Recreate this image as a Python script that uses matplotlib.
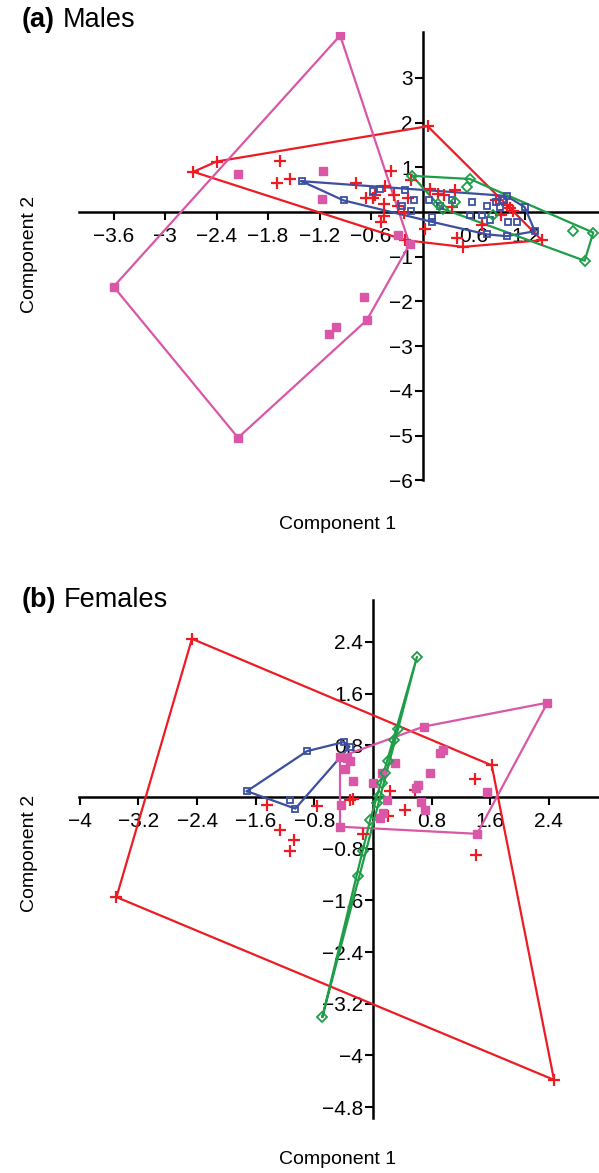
import numpy as np
import matplotlib
matplotlib.use("Agg")
import matplotlib.pyplot as plt
from matplotlib.ticker import FixedLocator, FixedFormatter

plt.rcParams['font.family'] = ['Liberation Sans', 'DejaVu Sans']

# ---------------- Panel (a) Males ----------------
males_red_x = [-2.67, -2.40, 0.06, 1.39, 0.47, -0.20,
               -1.66, -1.70, -1.55, -0.78, -0.66, -0.58, -0.37, -0.55, -0.44, -0.33,
               -0.45, -0.17, -0.28, -0.13, -0.45, -0.48, -0.22, 0.09, 0.18, 0.25,
               0.38, 0.34, 0.03, 0.40, 0.69, 0.86, 0.92, 0.98, 1.02, 1.05]
males_red_y = [0.90, 1.13, 1.92, -0.63, -0.78, -0.63,
               1.14, 0.66, 0.75, 0.66, 0.31, 0.31, 0.91, 0.38, 0.58, 0.38,
               0.19, 0.31, 0.13, 0.72, -0.10, -0.22, -0.03, 0.51, 0.40, 0.38,
               0.49, 0.12, -0.38, -0.57, -0.28, 0.27, -0.07, 0.16, 0.08, 0.03]

males_pink_x = [-0.96, -0.15, -0.65, -2.15, -3.60, -0.28, -0.68, -1.01, -1.09, -2.15, -1.16, -1.17]
males_pink_y = [3.95, -0.72, -2.42, -5.05, -1.67, -0.51, -1.91, -2.57, -2.73, 0.86, 0.92, 0.29]

males_blue_x = [-1.41, 0.98, 1.19, 1.31, 0.98, 0.75, 0.11, -0.92,
                -0.58, -0.50, -0.20, -0.10, -0.24, -0.13, 0.08, 0.20, 0.34, 0.58,
                0.75, 0.86, 0.90, 0.94, 0.55, 0.69, 0.79, 1.00, 1.10, 0.11]
males_blue_y = [0.69, 0.36, 0.11, -0.43, -0.54, -0.50, -0.22, 0.26,
                0.48, 0.51, 0.50, 0.27, 0.13, 0.02, 0.27, 0.13, 0.27, 0.23,
                0.13, 0.23, 0.12, 0.28, -0.07, -0.07, -0.18, -0.22, -0.22, -0.12]

males_green_x = [-0.12, 0.55, 1.99, 1.89, 0.24, 0.52, 0.38, 0.18, 0.82, 1.75]
males_green_y = [0.81, 0.74, -0.46, -1.09, 0.07, 0.56, 0.23, 0.17, -0.07, -0.42]

males_xticks = [-3.6, -3.0, -2.4, -1.8, -1.2, -0.6, 0.6, 1.2]
males_yticks = [-6, -5, -4, -3, -2, -1, 1, 2, 3]

# ---------------- Panel (b) Females ----------------
fem_red_x = [-2.47, 1.62, 2.47, -3.50,
             -1.45, -1.27, -1.08, -1.13, -0.77, -0.31, -0.27, 0.23, 0.57, 0.21,
             0.44, -0.13, 1.39, 1.41]
fem_red_y = [2.45, 0.49, -4.38, -1.55,
             -0.12, -0.51, -0.66, -0.83, -0.14, -0.05, -0.03, 0.10, 0.11, -0.29,
             -0.20, -0.57, 0.28, -0.90]

fem_pink_x = [2.38, 0.69, -0.45, -0.45, 1.42,
              -0.36, -0.31, -0.38, -0.27, 0.00, 0.12, 0.30, 0.78, 0.91, 0.95,
              0.62, 0.59, 0.66, 0.71, 0.19, 0.14, 0.10, -0.44, 1.55]
fem_pink_y = [1.46, 1.09, 0.62, -0.46, -0.57,
              0.60, 0.55, 0.44, 0.24, 0.21, 0.37, 0.52, 0.37, 0.68, 0.72,
              0.18, 0.14, -0.07, -0.20, -0.05, -0.25, -0.33, -0.12, 0.08]

fem_blue_x = [-1.72, -0.90, -0.40, -0.32, -1.13, -1.06]
fem_blue_y = [0.09, 0.71, 0.85, 0.78, -0.05, -0.18]

fem_green_x = [0.60, 0.34, 0.28, 0.21, 0.16, 0.12, 0.08, 0.05, -0.04, -0.14, -0.20, -0.69]
fem_green_y = [2.17, 1.06, 0.88, 0.55, 0.37, 0.21, 0.02, -0.10, -0.36, -0.84, -1.23, -3.40]

fem_xticks = [-4.0, -3.2, -2.4, -1.6, -0.8, 0.8, 1.6, 2.4]
fem_yticks = [-4.8, -4.0, -3.2, -2.4, -1.6, -0.8, 0.8, 1.6, 2.4]

RED = '#ED1C24'
PINK = '#D957A6'
BLUE = '#3C4FA0'
GREEN = '#1E9E48'


def convex_hull(xs, ys):
    pts = sorted(set(zip(xs, ys)))
    if len(pts) < 3:
        return pts + pts[:1]

    def cross(o, a, b):
        return (a[0] - o[0]) * (b[1] - o[1]) - (a[1] - o[1]) * (b[0] - o[0])

    lower = []
    for p in pts:
        while len(lower) >= 2 and cross(lower[-2], lower[-1], p) <= 0:
            lower.pop()
        lower.append(p)
    upper = []
    for p in reversed(pts):
        while len(upper) >= 2 and cross(upper[-2], upper[-1], p) <= 0:
            upper.pop()
        upper.append(p)
    h = lower[:-1] + upper[:-1]
    return h + h[:1]


def fmt(v):
    s = f"{v:g}"
    return s.replace('-', '\u2212')


def draw_group(ax, xs, ys, color, marker, ms, filled, mew):
    h = convex_hull(xs, ys)
    hx = [p[0] for p in h]
    hy = [p[1] for p in h]
    ax.plot(hx, hy, color=color, lw=1.6, zorder=2)
    ax.plot(xs, ys, linestyle='none', marker=marker, ms=ms,
            mfc=color if filled else 'none', mec=color, mew=mew, zorder=3)


def style_axes(ax, xticks, yticks, xlim, ylim):
    ax.set_xlim(*xlim)
    ax.set_ylim(*ylim)
    for s in ['top', 'right']:
        ax.spines[s].set_visible(False)
    ax.spines['left'].set_position(('data', 0))
    ax.spines['bottom'].set_position(('data', 0))
    for s in ['left', 'bottom']:
        ax.spines[s].set_linewidth(1.8)
        ax.spines[s].set_zorder(1)
    ax.xaxis.set_major_locator(FixedLocator(xticks))
    ax.xaxis.set_major_formatter(FixedFormatter([fmt(v) for v in xticks]))
    ax.yaxis.set_major_locator(FixedLocator(yticks))
    ax.yaxis.set_major_formatter(FixedFormatter([fmt(v) for v in yticks]))
    ax.tick_params(axis='both', direction='out', length=6, width=1.5,
                   labelsize=15, colors='black')
    ax.tick_params(axis='x', pad=5)
    ax.tick_params(axis='y', pad=1)
    ax.patch.set_alpha(0)


W, H = 599, 1173
fig = plt.figure(figsize=(W / 100, H / 100), dpi=100)

a_left, a_right, a_top, a_bot = 79.3, 598.4, 31.9, 480.2
axa = fig.add_axes([a_left / W, 1 - a_bot / H, (a_right - a_left) / W, (a_bot - a_top) / H])
draw_group(axa, males_red_x, males_red_y, RED, '+', 9, True, 1.6)
draw_group(axa, males_pink_x, males_pink_y, PINK, 's', 5.5, True, 1.0)
draw_group(axa, males_blue_x, males_blue_y, BLUE, 's', 5, False, 1.3)
draw_group(axa, males_green_x, males_green_y, GREEN, 'D', 5, False, 1.3)
style_axes(axa, males_xticks, males_yticks, (-4.0, 2.05), (-6.0, 4.03))

b_left, b_right, b_top, b_bot = 79.1, 598.0, 600.0, 1118.0
axb = fig.add_axes([b_left / W, 1 - b_bot / H, (b_right - b_left) / W, (b_bot - b_top) / H])
draw_group(axb, fem_red_x, fem_red_y, RED, '+', 9, True, 1.6)
draw_group(axb, fem_pink_x, fem_pink_y, PINK, 's', 5.5, True, 1.0)
draw_group(axb, fem_blue_x, fem_blue_y, BLUE, 's', 5, False, 1.3)
draw_group(axb, fem_green_x, fem_green_y, GREEN, 'D', 5, False, 1.3)
style_axes(axb, fem_xticks, fem_yticks, (-4.01, 3.07), (-4.97, 3.05))

# Titles
fig.text(22 / W, 1 - 26.7 / H, '(a)', fontsize=19.5, fontweight='bold', va='baseline', ha='left')
fig.text(63 / W, 1 - 26.7 / H, 'Males', fontsize=19.5, va='baseline', ha='left')
fig.text(22 / W, 1 - 606.7 / H, '(b)', fontsize=19.5, fontweight='bold', va='baseline', ha='left')
fig.text(64 / W, 1 - 606.7 / H, 'Females', fontsize=19.5, va='baseline', ha='left')

# Axis labels
fig.text(30 / W, 1 - 254 / H, 'Component 2', rotation=90, fontsize=14, ha='center', va='center')
fig.text(338 / W, 1 - 524 / H, 'Component 1', fontsize=14, ha='center', va='center')
fig.text(30 / W, 1 - 853 / H, 'Component 2', rotation=90, fontsize=14, ha='center', va='center')
fig.text(338 / W, 1 - 1160 / H, 'Component 1', fontsize=14, ha='center', va='center')

fig.savefig('out.png', dpi=100)
